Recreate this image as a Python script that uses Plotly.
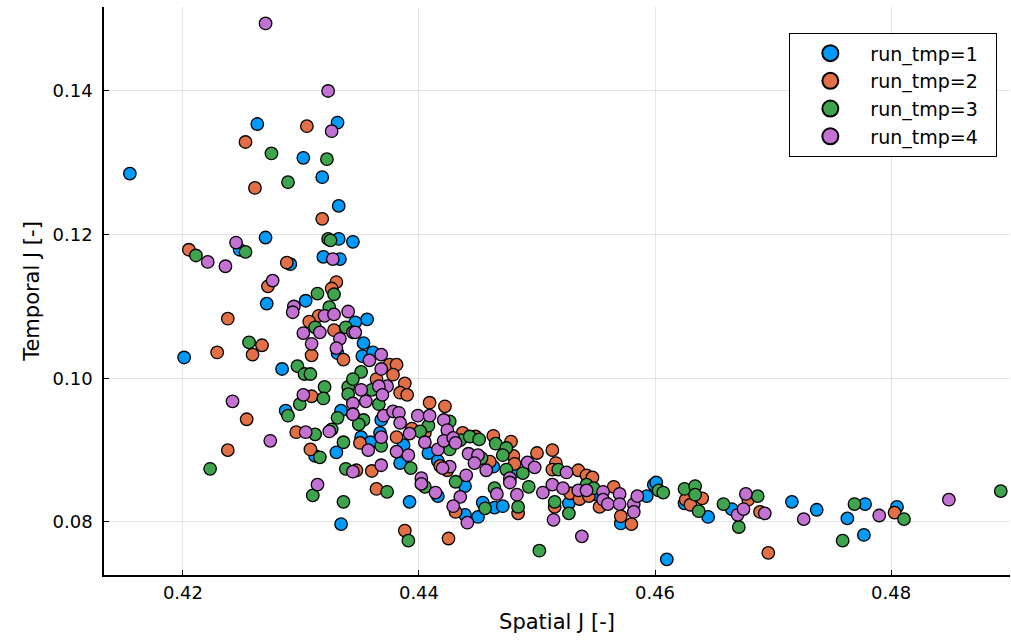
import plotly.graph_objects as go

# ---------------- data ----------------
series_names = ["run_tmp=1", "run_tmp=2", "run_tmp=3", "run_tmp=4"]
series_colors = ["#009AFA", "#E36F47", "#3EA44E", "#C371D2"]

x_tick_vals = [0.42, 0.44, 0.46, 0.48]
y_tick_vals = [0.08, 0.10, 0.12, 0.14]

run1_spatial = [0.4263, 0.4331, 0.4302, 0.4155, 0.4318, 0.4332, 0.4270, 0.4332, 0.4344, 0.4248,
                0.4291, 0.4319, 0.4333, 0.4304, 0.4271, 0.4331, 0.4201, 0.4284, 0.4287, 0.4334,
                0.4312, 0.4330, 0.4334, 0.4356, 0.4346, 0.4353, 0.4352, 0.4361, 0.4368, 0.4351,
                0.4359, 0.4367, 0.4387, 0.4384, 0.4408, 0.4416, 0.4463, 0.4392, 0.4416, 0.4439,
                0.4439, 0.4450, 0.4454, 0.4464, 0.4481, 0.4471, 0.4527, 0.4551, 0.4571, 0.4593,
                0.4599, 0.4601, 0.4610, 0.4625, 0.4645, 0.4665, 0.4716, 0.4737, 0.4763, 0.4778,
                0.4777, 0.4805]
run1_temporal = [0.1354, 0.1356, 0.1307, 0.1285, 0.1280, 0.1240, 0.1196, 0.1194, 0.1190, 0.1179,
                 0.1159, 0.1169, 0.1166, 0.1108, 0.1104, 0.1035, 0.1029, 0.1013, 0.0955, 0.0955,
                 0.0892, 0.0897, 0.0797, 0.1082, 0.1078, 0.1049, 0.1031, 0.1036, 0.0942, 0.0918,
                 0.0911, 0.0924, 0.0907, 0.0882, 0.0896, 0.0885, 0.0877, 0.0828, 0.0836, 0.0850,
                 0.0810, 0.0807, 0.0827, 0.0820, 0.0870, 0.0822, 0.0826, 0.0838, 0.0798, 0.0836,
                 0.0852, 0.0855, 0.0748, 0.0826, 0.0807, 0.0818, 0.0828, 0.0817, 0.0805, 0.0825,
                 0.0782, 0.0821]

run2_spatial = [0.4305, 0.4253, 0.4261, 0.4318, 0.4205, 0.4288, 0.4272, 0.4330, 0.4326, 0.4315,
                0.4238, 0.4307, 0.4328, 0.4267, 0.4229, 0.4259, 0.4309, 0.4336, 0.4309, 0.4254,
                0.4296, 0.4238, 0.4308, 0.4375, 0.4381, 0.4378, 0.4364, 0.4388, 0.4384, 0.4390,
                0.4409, 0.4422, 0.4394, 0.4381, 0.4405, 0.4437, 0.4448, 0.4463, 0.4460, 0.4418,
                0.4424, 0.4350, 0.4347, 0.4360, 0.4364, 0.4431, 0.4388, 0.4425, 0.4478, 0.4480,
                0.4481, 0.4500, 0.4513, 0.4516, 0.4513, 0.4535, 0.4542, 0.4547, 0.4484, 0.4515,
                0.4528, 0.4536, 0.4544, 0.4553, 0.4571, 0.4580, 0.4565, 0.4640, 0.4626, 0.4630,
                0.4679, 0.4689, 0.4696, 0.4803]
run2_temporal = [0.1351, 0.1329, 0.1265, 0.1222, 0.1179, 0.1161, 0.1128, 0.1134, 0.1125, 0.1087,
                 0.1083, 0.1079, 0.1067, 0.1046, 0.1036, 0.1033, 0.1032, 0.1026, 0.0975, 0.0943,
                 0.0925, 0.0900, 0.0901, 0.1019, 0.1019, 0.1005, 0.0999, 0.0993, 0.0980, 0.0977,
                 0.0966, 0.0961, 0.0930, 0.0918, 0.0924, 0.0924, 0.0919, 0.0920, 0.0884, 0.0878,
                 0.0872, 0.0910, 0.0872, 0.0871, 0.0846, 0.0814, 0.0788, 0.0777, 0.0912, 0.0892,
                 0.0881, 0.0896, 0.0900, 0.0882, 0.0873, 0.0872, 0.0865, 0.0862, 0.0812, 0.0821,
                 0.0840, 0.0832, 0.0836, 0.0821, 0.0808, 0.0797, 0.0849, 0.0833, 0.0831, 0.0824,
                 0.0831, 0.0814, 0.0757, 0.0813]

run3_spatial = [0.4275, 0.4322, 0.4289, 0.4323, 0.4325, 0.4211, 0.4253, 0.4328, 0.4314, 0.4324,
                0.4312, 0.4338, 0.4256, 0.4297, 0.4303, 0.4308, 0.4320, 0.4340, 0.4319, 0.4340,
                0.4299, 0.4289, 0.4331, 0.4312, 0.4326, 0.4336, 0.4316, 0.4223, 0.4338, 0.4310,
                0.4336, 0.4351, 0.4344, 0.4360, 0.4353, 0.4349, 0.4366, 0.4408, 0.4426, 0.4401,
                0.4368, 0.4393, 0.4435, 0.4426, 0.4443, 0.4451, 0.4465, 0.4453, 0.4373, 0.4405,
                0.4431, 0.4456, 0.4464, 0.4391, 0.4474, 0.4471, 0.4474, 0.4488, 0.4518, 0.4493,
                0.4484, 0.4515, 0.4527, 0.4502, 0.4542, 0.4548, 0.4603, 0.4607, 0.4625, 0.4634,
                0.4634, 0.4637, 0.4658, 0.4671, 0.4687, 0.4759, 0.4769, 0.4811, 0.4893]
run3_temporal = [0.1313, 0.1305, 0.1273, 0.1194, 0.1192, 0.1171, 0.1176, 0.1117, 0.1118, 0.1099,
                 0.1071, 0.1071, 0.1050, 0.1017, 0.1006, 0.1006, 0.0988, 0.0988, 0.0972, 0.0978,
                 0.0964, 0.0948, 0.0945, 0.0922, 0.0929, 0.0911, 0.0890, 0.0874, 0.0874, 0.0837,
                 0.0828, 0.1009, 0.0999, 0.0984, 0.0942, 0.0936, 0.0964, 0.0934, 0.0940, 0.0926,
                 0.0906, 0.0875, 0.0914, 0.0901, 0.0919, 0.0915, 0.0909, 0.0889, 0.0842, 0.0849,
                 0.0856, 0.0819, 0.0847, 0.0774, 0.0903, 0.0893, 0.0873, 0.0868, 0.0873, 0.0849,
                 0.0821, 0.0828, 0.0812, 0.0760, 0.0852, 0.0847, 0.0844, 0.0841, 0.0846, 0.0850,
                 0.0838, 0.0815, 0.0825, 0.0793, 0.0836, 0.0774, 0.0825, 0.0804, 0.0843]

run4_spatial = [0.4270, 0.4323, 0.4326, 0.4245, 0.4221, 0.4236, 0.4327, 0.4276, 0.4294, 0.4293,
                0.4340, 0.4320, 0.4328, 0.4302, 0.4316, 0.4344, 0.4333, 0.4309, 0.4330, 0.4302,
                0.4242, 0.4344, 0.4344, 0.4304, 0.4324, 0.4274, 0.4344, 0.4314, 0.4346, 0.4368,
                0.4358, 0.4368, 0.4373, 0.4366, 0.4351, 0.4369, 0.4344, 0.4355, 0.4370, 0.4378,
                0.4383, 0.4384, 0.4399, 0.4409, 0.4421, 0.4424, 0.4357, 0.4368, 0.4392, 0.4381,
                0.4391, 0.4405, 0.4416, 0.4421, 0.4429, 0.4431, 0.4442, 0.4450, 0.4447, 0.4457,
                0.4440, 0.4426, 0.4420, 0.4402, 0.4368, 0.4402, 0.4414, 0.4435, 0.4429, 0.4441,
                0.4466, 0.4492, 0.4498, 0.4525, 0.4477, 0.4477, 0.4483, 0.4505, 0.4513, 0.4522,
                0.4514, 0.4538, 0.4535, 0.4542, 0.4556, 0.4556, 0.4560, 0.4570, 0.4570, 0.4582,
                0.4582, 0.4585, 0.4670, 0.4675, 0.4677, 0.4693, 0.4726, 0.4790, 0.4849]
run4_temporal = [0.1494, 0.1400, 0.1344, 0.1189, 0.1162, 0.1156, 0.1166, 0.1136, 0.1100, 0.1092,
                 0.1093, 0.1087, 0.1089, 0.1063, 0.1064, 0.1064, 0.1055, 0.1048, 0.1042, 0.0977,
                 0.0968, 0.0965, 0.0950, 0.0925, 0.0926, 0.0913, 0.0870, 0.0852, 0.1064, 0.1033,
                 0.1025, 0.1013, 0.0989, 0.0989, 0.0984, 0.0977, 0.0950, 0.0968, 0.0948, 0.0954,
                 0.0952, 0.0938, 0.0948, 0.0948, 0.0942, 0.0928, 0.0900, 0.0918, 0.0923, 0.0898,
                 0.0893, 0.0911, 0.0901, 0.0913, 0.0917, 0.0910, 0.0895, 0.0893, 0.0882, 0.0872,
                 0.0865, 0.0877, 0.0875, 0.0861, 0.0879, 0.0853, 0.0841, 0.0835, 0.0822, 0.0799,
                 0.0839, 0.0883, 0.0876, 0.0869, 0.0861, 0.0855, 0.0838, 0.0841, 0.0852, 0.0847,
                 0.0803, 0.0780, 0.0844, 0.0844, 0.0842, 0.0831, 0.0825, 0.0839, 0.0825, 0.0825,
                 0.0814, 0.0836, 0.0810, 0.0818, 0.0839, 0.0812, 0.0804, 0.0809, 0.0831]

spatial = [run1_spatial, run2_spatial, run3_spatial, run4_spatial]
temporal = [run1_temporal, run2_temporal, run3_temporal, run4_temporal]

# ---------------- figure ----------------
FONT = "DejaVu Sans"
fig = go.Figure()

for name, color, xs, ys in zip(series_names, series_colors, spatial, temporal):
    fig.add_trace(go.Scatter(
        x=xs, y=ys, mode="markers", name=name, showlegend=False,
        marker=dict(size=12.5, color=color, line=dict(color="black", width=1.3)),
        hoverinfo="x+y+name",
    ))

# legend-only entries (larger symbols, as in the reference)
for name, color in zip(series_names, series_colors):
    fig.add_trace(go.Scatter(
        x=[None], y=[None], mode="markers", name=name + "\u00a0\u00a0",
        marker=dict(size=16, color=color, line=dict(color="black", width=2)),
    ))

axis_common = dict(
    showgrid=True, gridcolor="rgba(0,0,0,0.1)", gridwidth=1,
    zeroline=False, showline=True, linecolor="black", linewidth=1.5,
    ticks="inside", ticklen=5, tickwidth=1.2, tickcolor="black",
    tickfont=dict(family=FONT, size=18, color="black"),
    mirror=False, automargin=False,
)

fig.update_layout(
    width=1011, height=641,
    margin=dict(l=104, r=1, t=7, b=66),
    paper_bgcolor="white", plot_bgcolor="white",
    font=dict(family=FONT, color="black"),
    xaxis=dict(
        range=[0.41331, 0.49008], tickvals=x_tick_vals, tickformat=".2f",
        title=dict(text="Spatial J [-]", font=dict(family=FONT, size=21), standoff=12),
        ticklabelstandoff=1,
        **axis_common,
    ),
    yaxis=dict(
        range=[0.07262, 0.15169], tickvals=y_tick_vals, tickformat=".2f",
        title=dict(text="Temporal J [-]", font=dict(family=FONT, size=21), standoff=7),
        ticklabelstandoff=6,
        **axis_common,
    ),
    legend=dict(
        x=0.9857, y=0.9542, xanchor="right", yanchor="top",
        bgcolor="white", bordercolor="black", borderwidth=1.3,
        font=dict(family=FONT, size=19, color="black"),
        itemsizing="trace", tracegroupgap=0, itemwidth=70,
    ),
    showlegend=True,
)

fig.write_html("out.html", config={"displayModeBar": False},
               post_script="document.body.style.margin='0';")
